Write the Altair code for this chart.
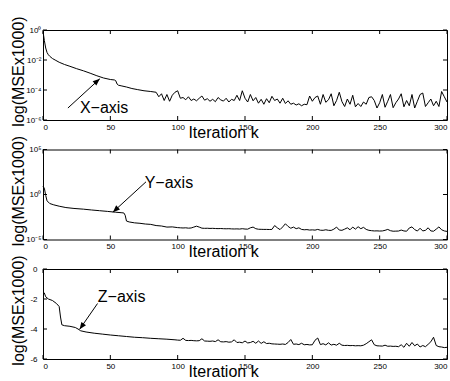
import altair as alt
import pandas as pd

FONT = "Liberation Sans"

# ---------------- data (log10 of MSE x 1000) ----------------
x_iter_head = [0, 1, 2, 3, 4, 5, 7, 9, 12, 16, 20, 25, 30, 35, 40, 45, 50, 53, 54, 55,
               56, 58, 62, 66, 70, 75, 80, 84]
x_log_head = [-0.1, -0.7, -1.2, -1.5, -1.65, -1.75, -1.9, -2.0, -2.15, -2.3, -2.42, -2.58,
              -2.72, -2.88, -3.05, -3.2, -3.3, -3.33, -3.38, -3.6, -3.68, -3.72, -3.8,
              -3.9, -3.97, -4.05, -4.1, -4.15]
x_iter_tail = list(range(86, 301, 2))
x_log_tail = [-4.45, -4.25, -4.70, -4.30, -4.75, -4.35, -4.15, -4.05, -4.55, -4.50,
              -4.65, -4.45, -4.70, -4.60, -4.72, -4.55, -4.40, -4.68, -4.58, -4.75,
              -4.62, -4.78, -4.50, -4.66, -4.74, -4.55, -4.80, -4.62, -4.70, -4.35,
              -4.70, -4.05, -4.55, -4.80, -4.30, -4.72, -4.50, -4.88, -4.62, -4.95,
              -4.58, -4.85, -4.42, -4.70, -4.60, -4.88, -4.55, -4.90, -4.72, -4.95,
              -4.88, -5.00, -4.92, -5.05, -4.95, -4.98, -4.40, -4.75, -4.50, -4.40,
              -4.95, -4.30, -4.82, -4.65, -4.25, -5.05, -4.70, -4.15, -4.78, -5.10,
              -4.60, -4.95, -4.35, -5.12, -4.90, -5.10, -4.80, -4.95, -4.50, -4.45,
              -4.70, -5.20, -4.85, -4.30, -5.15, -4.75, -4.30, -5.18, -4.85, -4.60,
              -4.25, -5.12, -4.70, -5.05, -4.30, -5.20, -4.75, -4.30, -4.20, -5.10,
              -4.85, -4.60, -5.05, -4.75, -5.10, -4.10, -4.45, -4.80]

y_iter_head = [0, 1, 2, 3, 5, 8, 12, 17, 23, 30, 36, 42, 48, 54, 58, 60, 61, 62, 64, 68,
               72, 76, 80, 84, 88, 92, 96, 100]
y_log_head = [0.9, 0.7, -0.1, -0.7, -1.0, -1.15, -1.3, -1.45, -1.55, -1.63, -1.72, -1.8,
              -1.88, -1.97, -2.02, -2.05, -2.3, -2.95, -3.05, -3.15, -3.2, -3.28, -3.32,
              -3.45, -3.5, -3.62, -3.6, -3.68]
y_iter_tail = list(range(102, 301, 2))
y_log_tail = [-3.70, -3.72, -3.70, -3.74, -3.72, -3.62, -3.52, -3.62, -3.74, -3.76,
              -3.75, -3.77, -3.76, -3.78, -3.79, -3.78, -3.80, -3.81, -3.80, -3.82,
              -3.83, -3.82, -3.84, -3.80, -3.84, -3.85, -3.70, -3.62, -3.80, -3.86,
              -3.87, -3.88, -3.88, -3.89, -3.88, -3.45, -3.70, -3.90, -3.60, -3.25,
              -3.55, -3.75, -3.62, -3.80, -3.70, -3.88, -3.92, -3.90, -3.95, -3.93,
              -3.96, -3.88, -3.97, -3.98, -3.92, -3.98, -3.99, -3.85, -3.62, -3.95,
              -3.98, -3.85, -3.70, -3.92, -3.62, -3.85, -3.58, -3.80, -3.65, -3.88,
              -3.98, -4.02, -4.05, -4.04, -4.06, -4.05, -3.98, -3.88, -4.02, -4.08,
              -4.07, -4.06, -3.95, -4.05, -4.08, -3.72, -3.60, -3.90, -4.06, -3.75,
              -4.05, -3.98, -3.70, -4.05, -4.08, -3.85, -3.60, -3.92, -4.05, -4.10]

z_iter_head = [0, 1, 2, 4, 7, 10, 12, 13, 14, 16, 20, 24, 26, 28, 32, 38, 44, 50, 56, 62,
               68, 74, 80, 86, 92, 98]
z_log_head = [-1.65, -1.6, -1.85, -2.0, -2.1, -2.3, -2.5, -3.2, -3.72, -3.78, -3.82, -3.9,
              -4.0, -4.12, -4.2, -4.28, -4.34, -4.4, -4.45, -4.5, -4.55, -4.58, -4.62,
              -4.65, -4.68, -4.72]
z_iter_tail = list(range(100, 301, 2))
z_log_tail = [-4.74, -4.75, -4.62, -4.76, -4.77, -4.76, -4.78, -4.79, -4.78, -4.65,
              -4.80, -4.81, -4.82, -4.80, -4.84, -4.72, -4.85, -4.86, -4.84, -4.88,
              -4.86, -4.72, -4.90, -4.88, -4.92, -4.80, -4.93, -4.90, -4.82, -4.95,
              -4.80, -4.96, -4.85, -4.97, -4.95, -4.99, -5.00, -5.01, -5.02, -5.00,
              -5.03, -4.90, -4.70, -5.02, -5.00, -5.04, -4.95, -5.05, -5.03, -5.06,
              -5.05, -4.75, -4.60, -5.04, -4.98, -5.06, -4.92, -5.07, -5.02, -5.08,
              -4.95, -5.08, -5.10, -5.09, -5.11, -5.10, -5.12, -5.11, -5.12, -5.08,
              -4.98, -4.85, -4.72, -5.05, -5.12, -5.13, -5.14, -5.08, -5.15, -5.14,
              -5.16, -5.15, -5.18, -5.05, -5.22, -4.95, -5.15, -4.90, -5.12, -5.00,
              -5.20, -5.10, -5.18, -5.02, -4.85, -4.55, -5.10, -5.18, -5.20, -5.24,
              -5.22]

x_ticks = [0, 50, 100, 150, 200, 250, 300]

# annotations: label position, arrow tail, arrow head (data coordinates)
ann_labels = ["X\u2212axis", "Y\u2212axis", "Z\u2212axis"]
ann_text_k = [27.4, 75.5, 40.7]
ann_text_v = [-5.53, 0.71, -2.18]
ann_tail_k = [18.5, 76.5, 40.5]
ann_tail_v = [-5.2, 1.41, -2.3]
ann_head_k = [42.2, 51.9, 27.2]
ann_head_v = [-3.25, -1.96, -4.02]
ann_angle = [49, 227, 215]

W, H = 404, 90
TICK = 4


def panel(iters, vals, ydomain, yticks, ylabel_expr, ylab_pad, idx):
    df = pd.DataFrame({"k": iters, "v": vals})
    xs = alt.Scale(domain=[0, 300], nice=False, zero=False)
    ys = alt.Scale(domain=ydomain, nice=False, zero=False)
    xaxis = alt.Axis(
        values=x_ticks, ticks=False, domain=False, grid=False, labelFlush=True,
        labelFontSize=8, labelPadding=3, labelFont=FONT, labelColor="black",
        title="Iteration k", titleFont=FONT, titleFontSize=16,
        titleFontWeight="normal", titleColor="black", titleX=180, titleY=20,
        titleBaseline="bottom", titleAlign="center")
    yaxis = alt.Axis(
        values=yticks, ticks=False, domain=False, grid=False,
        labelFontSize=8, labelPadding=ylab_pad, labelFont=FONT, labelColor="black",
        labelExpr=ylabel_expr,
        title="log(MSEx1000)", titleFont=FONT, titleFontSize=16,
        titleFontWeight="normal", titleColor="black", titleX=-20, titleY=41,
        titleAngle=270, titleBaseline="alphabetic", titleAlign="center")

    def X(f):
        return alt.X(f, scale=xs, axis=xaxis)

    def Y(f):
        return alt.Y(f, scale=ys, axis=yaxis)

    line = alt.Chart(df).mark_line(color="black", strokeWidth=1).encode(
        x=X("k:Q"), y=Y("v:Q"))
    xt = pd.DataFrame({"k": x_ticks})
    yt = pd.DataFrame({"v": yticks})
    top_t = alt.Chart(xt).mark_rule(color="black", strokeWidth=1).encode(
        x=X("k:Q"), y=alt.value(0), y2=alt.value(TICK))
    bot_t = alt.Chart(xt).mark_rule(color="black", strokeWidth=1).encode(
        x=X("k:Q"), y=alt.value(H), y2=alt.value(H - TICK))
    left_t = alt.Chart(yt).mark_rule(color="black", strokeWidth=1).encode(
        y=Y("v:Q"), x=alt.value(0), x2=alt.value(TICK))
    right_t = alt.Chart(yt).mark_rule(color="black", strokeWidth=1).encode(
        y=Y("v:Q"), x=alt.value(W), x2=alt.value(W - TICK))

    ann = pd.DataFrame({
        "label": [ann_labels[idx]], "tk": [ann_text_k[idx]], "tv": [ann_text_v[idx]],
        "ak": [ann_tail_k[idx]], "av": [ann_tail_v[idx]],
        "hk": [ann_head_k[idx]], "hv": [ann_head_v[idx]],
    })
    text = alt.Chart(ann).mark_text(
        align="left", baseline="alphabetic", fontSize=16, font=FONT, color="black"
    ).encode(x=X("tk:Q"), y=Y("tv:Q"), text="label:N")
    arrow = alt.Chart(ann).mark_rule(color="black", strokeWidth=1).encode(
        x=X("ak:Q"), y=Y("av:Q"), x2="hk:Q", y2="hv:Q")
    head = alt.Chart(ann).mark_point(
        shape="M0,0L-0.4,1L0.4,1Z", filled=True, color="black", opacity=1,
        strokeWidth=0, size=200
    ).encode(x=X("hk:Q"), y=Y("hv:Q"), angle=alt.value(ann_angle[idx]))

    return alt.layer(line, top_t, bot_t, left_t, right_t, arrow, head, text).properties(
        width=W, height=H)


p1 = panel(x_iter_head + x_iter_tail, x_log_head + x_log_tail, [-6, 0], [-6, -4, -2, 0],
           "datum.value == 0 ? '10\u2070' : datum.value == -2 ? '10\u207b\u00b2' : "
           "datum.value == -4 ? '10\u207b\u2074' : '10\u207b\u2076'", 2, 0)
p2 = panel(y_iter_head + y_iter_tail, y_log_head + y_log_tail, [-5, 5], [-5, 0, 5],
           "datum.value == 0 ? '10\u2070' : datum.value == 5 ? '10\u2075' : '10\u207b\u2075'",
           2, 1)
p3 = panel(z_iter_head + z_iter_tail, z_log_head + z_log_tail, [-6, 0], [-6, -4, -2, 0],
           "datum.value == 0 ? '0' : '-' + abs(datum.value)", 6, 2)

chart = alt.vconcat(p1, p2, p3, spacing=29.5, bounds="flush").properties(
    padding={"left": 9, "top": 15, "right": 0, "bottom": 0},
    background="white",
).configure_view(stroke="black", strokeWidth=1)

chart.save("out.html", embed_options={"renderer": "svg", "actions": False})
